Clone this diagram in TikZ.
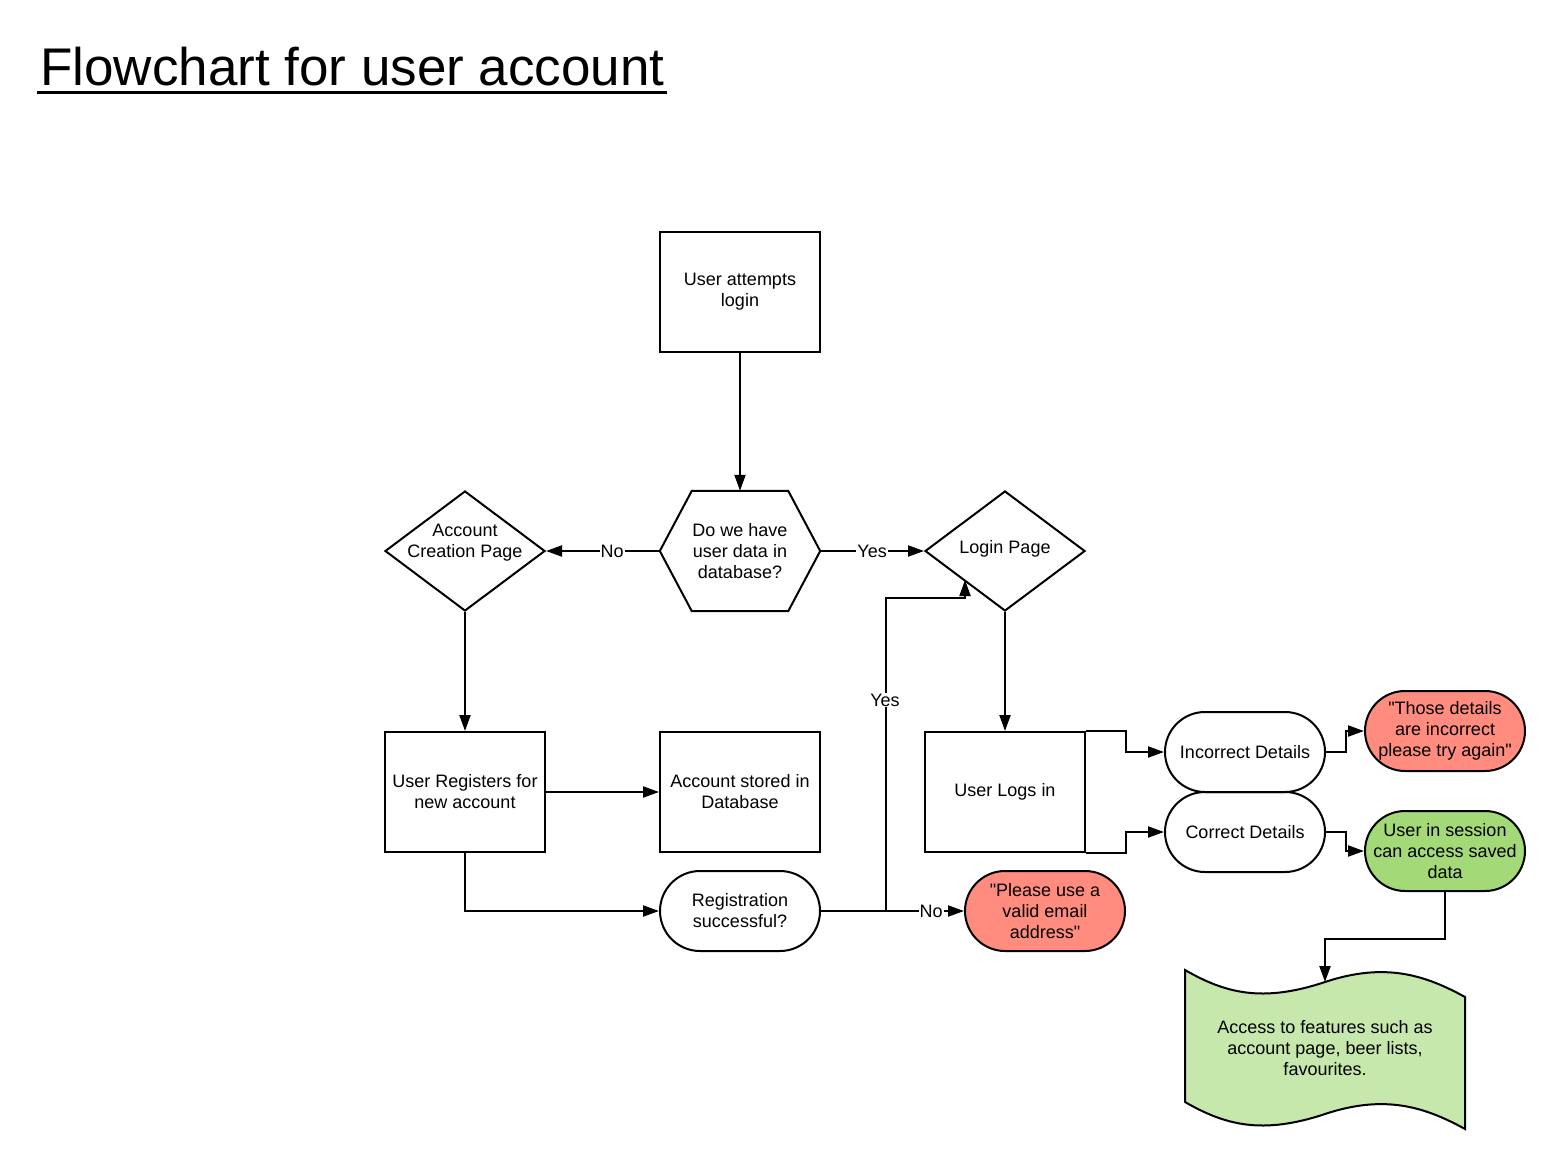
\documentclass[tikz,border=0pt]{standalone}
\usepackage{fontspec}
\setmainfont{Liberation Sans}[Ligatures=TeXOff]
\usetikzlibrary{arrows.meta,shapes.geometric}
\definecolor{redf}{HTML}{FF8C7F}
\definecolor{greenf}{HTML}{A3D977}
\definecolor{docf}{HTML}{C7E8AC}
\begin{document}
\begin{tikzpicture}[x=1pt,y=-1pt,
 every node/.style={font=\fontsize{18}{21}\selectfont, align=center, text=black},
 base/.style={draw, line width=2pt, inner sep=0pt, minimum width=160pt},
 proc/.style={base, rectangle, minimum height=120pt},
 term/.style={base, rectangle, rounded corners=40pt, minimum height=80pt},
 dia/.style={draw, line width=2pt, diamond, inner sep=0pt, minimum width=160pt, minimum height=120pt},
 arr/.style={line width=2pt, -{Triangle[length=16pt,width=11pt]}},
 lbl/.style={fill=white, inner sep=1pt}]
\fill[white] (0,0) rectangle (1565,1172);
\useasboundingbox (0,0) rectangle (1565,1172);

% title
\node[font=\fontsize{53}{58}\selectfont, anchor=base west, inner sep=0pt] (title) at (40,85) {Flowchart for user account};
\draw[line width=3pt] ([xshift=-3pt,yshift=-7pt]title.base west) -- ([xshift=2pt,yshift=-7pt]title.base east);

% nodes
\node[proc] (att) at (740,292) {User attempts\\login};
\node[minimum width=160pt, minimum height=120pt, inner sep=0pt] (hex) at (740,551) {Do we have\\user data in\\database?};
\draw[line width=2pt] (hex.west) -- ([xshift=32pt]hex.north west) -- ([xshift=-32pt]hex.north east) -- (hex.east) -- ([xshift=-32pt]hex.south east) -- ([xshift=32pt]hex.south west) -- cycle;
\node[dia] (acp) at (465,551) {};
\node (acpt) at (465,543) {Account\\Creation Page};
\node[dia] (lp) at (1005,551) {};
\node (lpt) at (1005,549) {Login Page};
\node[proc] (ureg) at (465,792) {User Registers for\\new account};
\node[proc] (stored) at (740,792) {Account stored in\\Database};
\node[proc] (logs) at (1005,792) {User Logs in};
\node[term] (reg) at (740,911) {Registration\\successful?};
\node[term, fill=redf] (valid) at (1045,911) {"Please use a\\valid email\\address"};
\node[term] (inc) at (1245,752) {Incorrect Details};
\node[term] (cor) at (1245,832) {Correct Details};
\node[term, fill=redf] (wrong) at (1445,731) {"Those details\\are incorrect\\please try again"};
\node[term, fill=greenf] (sess) at (1445,851) {User in session\\can access saved\\data};

% document shape
\draw[line width=2pt, fill=docf] (1185,970) .. controls (1225,993) and (1262,1003) .. (1325,982) .. controls (1385,962) and (1425,975) .. (1465,997) -- (1465,1129) .. controls (1425,1107) and (1385,1094) .. (1325,1114) .. controls (1262,1135) and (1225,1125) .. (1185,1102) -- cycle;
\node (doc) at (1325,1048) {Access to features such as\\account page, beer lists,\\favourites.};
\coordinate (doctop) at (1325,982);
\coordinate (lpin) at (965,580);

% connectors
\draw[arr] (att) -- (hex);
\draw[arr] (hex.west) -- node[lbl,pos=0.42]{No} (acp.east);
\draw[arr] (hex.east) -- node[lbl,pos=0.5]{Yes} (lp.west);
\draw[arr] (acp.south) -- (ureg.north);
\draw[arr] (lp.south) -- (logs.north);
\draw[arr] (ureg.east) -- (stored.west);
\draw[arr] (ureg.south) |- (reg.west);
\draw[arr] (reg.east) -- node[lbl,pos=0.77]{No} (valid.west);
\draw[arr] (reg.east) -- ++(65,0) |- ([yshift=-18pt]lpin) -- (lpin);
\node[lbl] (yes2) at (885,700) {Yes};
\draw[arr] (logs.north east) -- ++(40,0) |- (inc.west);
\draw[arr] (logs.south east) -- ++(40,0) |- (cor.west);
\draw[arr] (inc.east) -- ++(20,0) |- (wrong.west);
\draw[arr] (cor.east) -- ++(20,0) |- (sess.west);
\draw[arr] (sess.south) -- ++(0,47) -| (doctop);
\end{tikzpicture}
\end{document}
